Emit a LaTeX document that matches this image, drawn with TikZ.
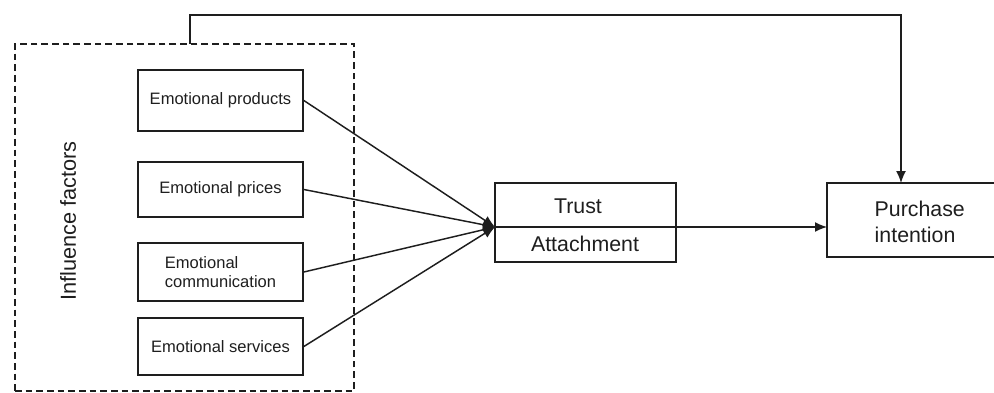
\documentclass[tikz,border=0pt]{standalone}
\usepackage{fontspec}
\setmainfont{Liberation Sans}
\usetikzlibrary{arrows.meta}
\definecolor{ink}{HTML}{1E1E1E}
\begin{document}
\begin{tikzpicture}[x=0.75pt,y=-0.75pt,
  fbox/.style={draw=ink,line width=1.3pt,minimum width=165*0.75pt,inner sep=0pt,font=\fontsize{12.4}{14}\selectfont,text=ink},
  bigbox/.style={draw=ink,line width=1.3pt,inner sep=0pt,font=\fontsize{16}{19}\selectfont,text=ink},
  conn/.style={draw=ink,line width=1.1pt},
  tip/.style={-{Latex[length=9pt,width=7.5pt]}}
]
\useasboundingbox (0,0) rectangle (994,392);
% dashed frame
\node[draw=ink,dashed,dash pattern=on 5pt off 3pt,line width=0.9pt,minimum width=339*0.75pt,minimum height=347*0.75pt,inner sep=0pt] (frame) at (184.5,217.5) {};
\node[rotate=90,font=\fontsize{16.3}{19}\selectfont,text=ink] (inf) at (68,221) {Influence factors};
% factor boxes
\node[fbox,minimum height=61*0.75pt] (p1) at (220.5,100.5) {Emotional products};
\node[fbox,minimum height=55*0.75pt] (p2) at (220.5,189.5) {Emotional prices};
\node[fbox,minimum height=58*0.75pt,align=left] (p3) at (220.5,272) {Emotional\\communication};
\node[fbox,minimum height=57*0.75pt] (p4) at (220.5,346.5) {Emotional services};
% trust box
\node[bigbox,minimum width=181*0.75pt,minimum height=79*0.75pt] (trust) at (585.5,222.5) {};
\coordinate (tin) at (495,227);
\coordinate (tout) at (676,227);
\draw[ink,line width=1.1pt] (tin) -- (tout);
\node[font=\fontsize{16}{19}\selectfont,text=ink] (tt) at (578,206) {Trust};
\node[font=\fontsize{16}{19}\selectfont,text=ink] (ta) at (585,244) {Attachment};
% purchase box
\node[bigbox,minimum width=176*0.75pt,minimum height=74*0.75pt] (pi) at (915,220) {};
\node[font=\fontsize{16}{19}\selectfont,text=ink,align=left,anchor=west] (pit) at (870,222) {Purchase\\intention};
\coordinate (pin) at (827,227);
% connectors
\draw[conn,tip] (p1.east) -- (tin);
\draw[conn,tip] (p2.east) -- (tin);
\draw[conn,tip] (p3.east) -- (tin);
\draw[conn,tip] (p4.east) -- (tin);
\draw[conn,tip] (tout) -- (pin);
\coordinate (fs) at (190,44);
\coordinate (pt) at (901,183);
\draw[conn,tip] (fs) -- (190,15) -- (901,15) -- (pt);
\end{tikzpicture}
\end{document}
